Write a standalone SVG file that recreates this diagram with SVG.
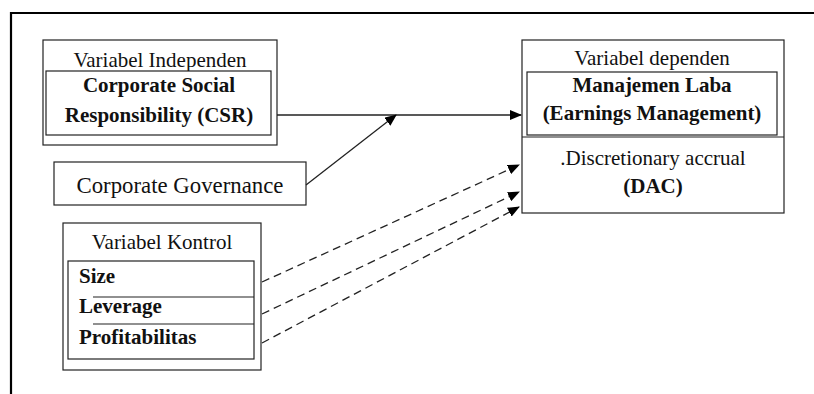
<svg xmlns="http://www.w3.org/2000/svg" width="814" height="394" viewBox="0 0 814 394">
<style>
.box{fill:#fff;stroke:#222;stroke-width:1.2}
.line{stroke:#222;stroke-width:1.2;fill:none}
text{font-family:'Liberation Serif','Times New Roman',Tinos,'DejaVu Serif',serif;font-size:21px;fill:#111;text-anchor:middle}
.b{font-weight:bold}
.l{text-anchor:start}
.c{stroke:#222;stroke-width:1.3;fill:none}
.d{stroke-dasharray:8 5}
</style>
<defs>
<marker id="ah" markerWidth="12" markerHeight="10" refX="11" refY="5" orient="auto" markerUnits="userSpaceOnUse">
<path d="M0,0 L12,5 L0,10 z" fill="#000"/>
</marker>
</defs>
<rect width="814" height="394" fill="#fff"/>
<path d="M11,394 V13 H814" fill="none" stroke="#000" stroke-width="2.2"/>
<g id="independen">
<rect class="box" x="43" y="40" width="234" height="105"/>
<text x="160" y="67">Variabel Independen</text>
<rect class="box" x="46" y="71" width="225" height="64"/>
<text class="b" x="159" y="92">Corporate Social</text>
<text class="b" x="159" y="122">Responsibility (CSR)</text>
</g>
<g id="governance">
<rect class="box" x="54" y="162" width="252" height="43"/>
<text x="180" y="193" style="font-size:22.8px">Corporate Governance</text>
</g>
<g id="kontrol">
<rect class="box" x="63" y="223" width="198" height="147"/>
<text x="162" y="249">Variabel Kontrol</text>
<rect class="box" x="68" y="261" width="186" height="98"/>
<line class="line" x1="93" y1="297" x2="254" y2="297"/>
<line class="line" x1="93" y1="324" x2="254" y2="324"/>
<text class="b l" x="79" y="283">Size</text>
<text class="b l" x="79" y="313">Leverage</text>
<text class="b l" x="79" y="344">Profitabilitas</text>
</g>
<g id="dependen">
<rect class="box" x="522" y="40" width="262" height="173"/>
<text x="652" y="65">Variabel dependen</text>
<rect class="box" x="527" y="72" width="250" height="63"/>
<text class="b" x="652" y="92">Manajemen Laba</text>
<text class="b" x="652" y="120">(Earnings Management)</text>
<line class="line" x1="522" y1="137" x2="784" y2="137"/>
<text x="653" y="165">.Discretionary accrual</text>
<text class="b" x="653" y="193">(DAC)</text>
</g>
<g id="connectors">
<line class="c" x1="277" y1="115" x2="521" y2="115" marker-end="url(#ah)"/>
<line class="c" x1="306" y1="185" x2="396" y2="115" marker-end="url(#ah)"/>
<line class="c d" x1="262" y1="282" x2="519" y2="165" marker-end="url(#ah)"/>
<line class="c d" x1="262" y1="314" x2="519" y2="192" marker-end="url(#ah)"/>
<line class="c d" x1="262" y1="343" x2="519" y2="207" marker-end="url(#ah)"/>
</g>
</svg>
